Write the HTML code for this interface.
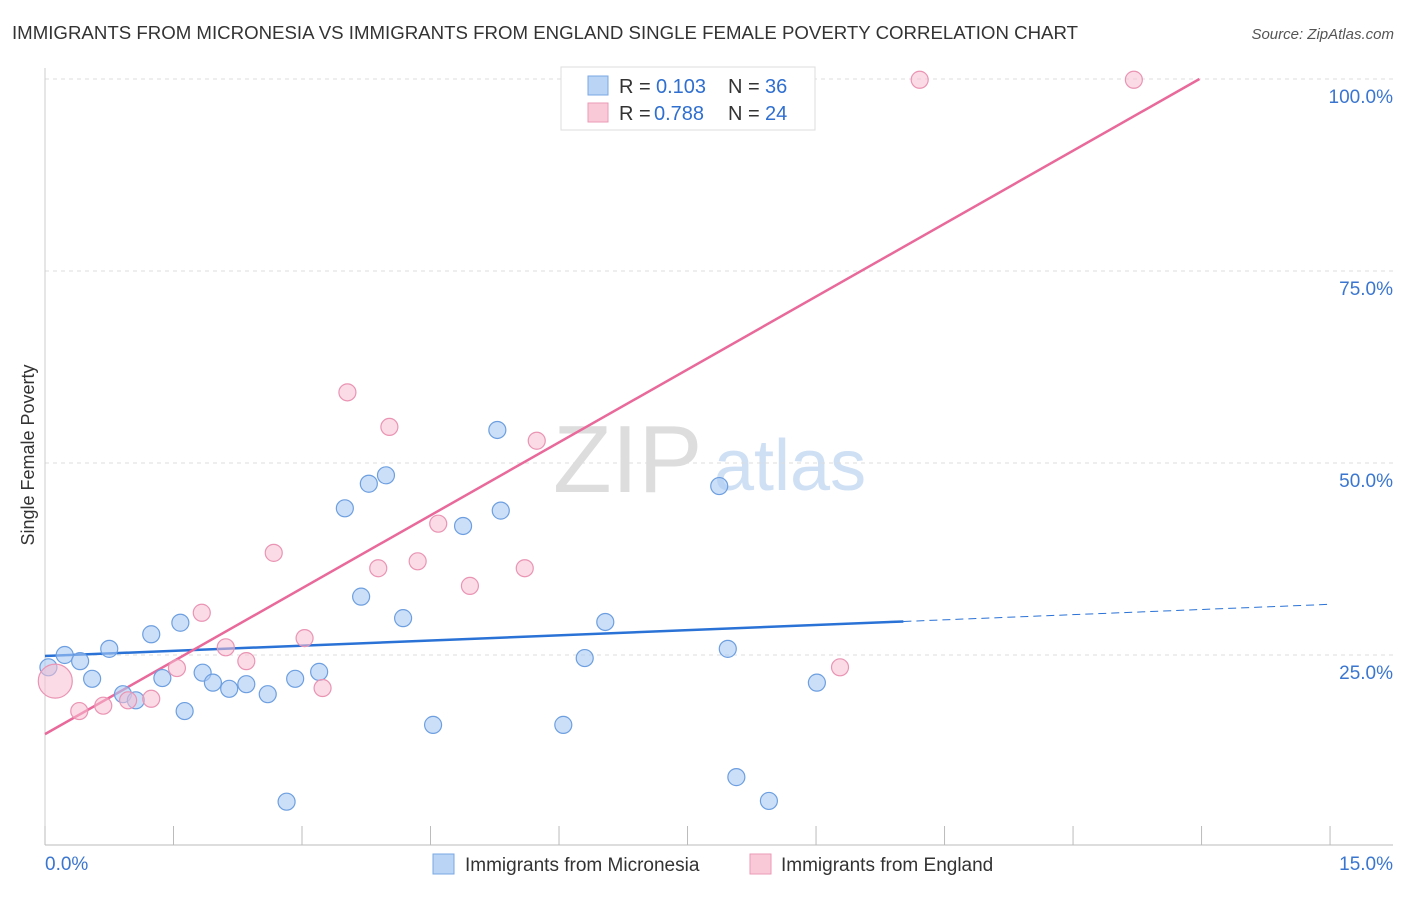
<!DOCTYPE html>
<html><head><meta charset="utf-8"><style>
body{margin:0;background:#fff;font-family:"Liberation Sans",sans-serif;}
svg text{font-family:"Liberation Sans",sans-serif;}
</style></head><body>
<svg id="chart" width="1406" height="892" xmlns="http://www.w3.org/2000/svg">
<text x="12" y="39" font-size="18" fill="#333" textLength="1066" lengthAdjust="spacingAndGlyphs">IMMIGRANTS FROM MICRONESIA VS IMMIGRANTS FROM ENGLAND SINGLE FEMALE POVERTY CORRELATION CHART</text>
<text x="1394" y="39" font-size="15" fill="#555" font-style="italic" text-anchor="end">Source: ZipAtlas.com</text>
<text transform="translate(34,455) rotate(-90)" font-size="18" fill="#333" text-anchor="middle">Single Female Poverty</text>
<text x="553" y="492" font-size="96" fill="#ddd" font-family="Liberation Serif">ZIP</text>
<text x="714" y="490" font-size="72" fill="#cfe0f5">atlas</text>
<g id="grid"></g><g id="axes"></g><g id="lines"></g><g id="pts"></g>
<g>
<rect x="561" y="67" width="254" height="63" fill="#fff" stroke="#ddd"/>
<rect x="588" y="76" width="20" height="19" fill="#b9d4f5" stroke="#7aa8e3"/>
<text x="619" y="93" font-size="20" fill="#333">R =</text>
<text x="656" y="93" font-size="20" fill="#2f6fd0">0.103</text>
<text x="728" y="93" font-size="20" fill="#333">N =</text>
<text x="765" y="93" font-size="20" fill="#2f6fd0">36</text>
<rect x="588" y="103" width="20" height="19" fill="#f9c9d8" stroke="#eb9bb6"/>
<text x="619" y="120" font-size="20" fill="#333">R =</text>
<text x="654" y="120" font-size="20" fill="#2f6fd0">0.788</text>
<text x="728" y="120" font-size="20" fill="#333">N =</text>
<text x="765" y="120" font-size="20" fill="#2f6fd0">24</text>
</g>
<g>
<rect x="433" y="854" width="21" height="20" fill="#b9d4f5" stroke="#7aa8e3"/>
<text x="465" y="871" font-size="19" fill="#333">Immigrants from Micronesia</text>
<rect x="750" y="854" width="21" height="20" fill="#f9c9d8" stroke="#eb9bb6"/>
<text x="781" y="871" font-size="19" fill="#333">Immigrants from England</text>
</g>
</svg>
<script>
const blueX=[0.04,0.23,0.41,0.55,0.75,0.91,1.06,1.24,1.37,1.58,1.63,1.84,1.96,2.15,2.35,2.60,2.82,2.92,3.20,3.50,3.69,3.78,3.98,4.18,4.53,4.88,5.28,5.32,6.05,6.30,6.54,7.87,7.97,8.07,8.45,9.01];
const blueY=[23.4,25.0,24.2,21.9,25.8,19.9,19.1,27.7,22.0,29.2,17.7,22.7,21.4,20.6,21.2,19.9,5.9,21.9,22.8,44.1,32.6,47.3,48.4,29.8,15.9,41.8,54.3,43.8,15.9,24.6,29.3,47.0,25.8,9.1,6.0,21.4];
const pinkX=[0.12,0.40,0.68,0.97,1.24,1.54,1.83,2.11,2.35,2.67,3.03,3.24,3.53,3.89,4.02,4.35,4.59,4.96,5.60,5.74,9.28,10.21,12.71,7.49];
const pinkY=[21.6,17.7,18.4,19.1,19.3,23.3,30.5,26.0,24.2,38.3,27.2,20.7,59.2,36.3,54.7,37.2,42.1,34.0,36.3,52.9,23.4,99.9,99.9,99.9];
const pinkR=[17,8.5,8.5,8.5,8.5,8.5,8.5,8.5,8.5,8.5,8.5,8.5,8.5,8.5,8.5,8.5,8.5,8.5,8.5,8.5,8.5,8.5,8.5,8.5];
const yTicks=[25,50,75,100];
const yTickLabels=["25.0%","50.0%","75.0%","100.0%"];
const blueTrend=[24.87,31.6];
const pinkTrend=[14.7,6.33];
const blueSolidEnd=10.02;
const X=v=>45+v*85.67, Y=v=>847-v*7.68;
const NS="http://www.w3.org/2000/svg";
function mk(p,tag,a){const e=document.createElementNS(NS,tag);for(const k in a)e.setAttribute(k,a[k]);document.getElementById(p).appendChild(e);return e;}
yTicks.forEach((t,i)=>{
 const l=mk('grid','line',{x1:45,x2:1393,y1:Y(t),y2:Y(t),stroke:'#ddd','stroke-dasharray':'4,4'});
 
 
 const tx=mk('grid','text',{x:1393,y:Y(t)+24,'font-size':19,fill:'#3a76d0','text-anchor':'end'});
 tx.textContent=yTickLabels[i];
 
 
});
let a=mk('axes','line',{x1:45,x2:1393,y1:845,y2:845,stroke:'#bbb'});


a=mk('axes','line',{x1:45,x2:45,y1:68,y2:845,stroke:'#ccc'});


for(let i=0;i<=10;i++){const t=mk('axes','line',{x1:X(i*1.5),x2:X(i*1.5),y1:826,y2:845,stroke:'#bbb'});
 
 }
let t0=mk('axes','text',{x:45,y:870,'font-size':19,fill:'#3a76d0'});t0.textContent='0.0%';


let t1=mk('axes','text',{x:1393,y:870,'font-size':19,fill:'#3a76d0','text-anchor':'end'});t1.textContent='15.0%';


blueX.forEach((x,i)=>{const c=mk('pts','circle',{cx:X(x),cy:Y(blueY[i]),r:8.5,fill:'rgba(170,202,244,0.6)',stroke:'#6d9fe0','stroke-width':1.2});
 
 });
pinkX.forEach((x,i)=>{const c=mk('pts','circle',{cx:X(x),cy:Y(pinkY[i]),r:pinkR[i],fill:'rgba(248,190,210,0.55)',stroke:'#ea94b3','stroke-width':1.2});
 
 });
const bY=x=>blueTrend[0]+(blueTrend[1]-blueTrend[0])*x/15;
let l=mk('lines','line',{x1:X(0),y1:Y(bY(0)),x2:X(blueSolidEnd),y2:Y(bY(blueSolidEnd)),stroke:'#2a72d6','stroke-width':2.5});


l=mk('lines','line',{x1:X(blueSolidEnd),y1:Y(bY(blueSolidEnd)),x2:X(15),y2:Y(bY(15)),stroke:'#2a72d6','stroke-width':1,'stroke-dasharray':'8,5'});


const pEnd=(100-pinkTrend[0])/pinkTrend[1];
l=mk('lines','line',{x1:X(0),y1:Y(pinkTrend[0]),x2:X(pEnd),y2:Y(100),stroke:'#e8699a','stroke-width':2.5});


</script>
</body></html>
